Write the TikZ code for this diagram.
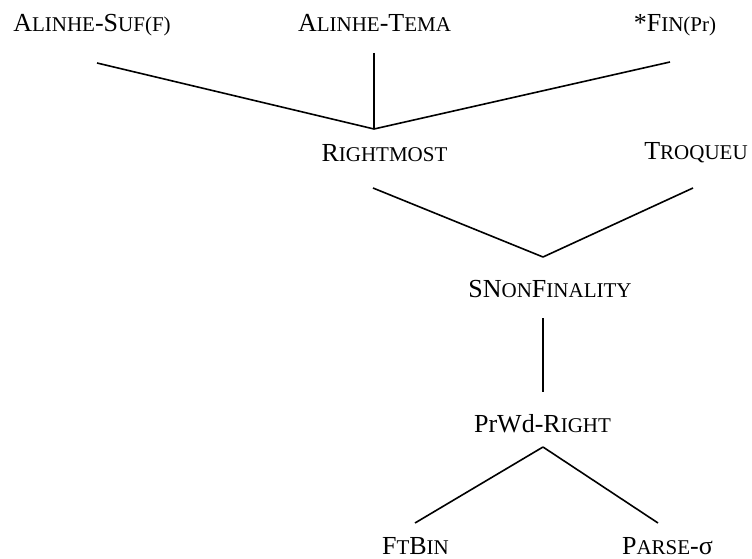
\documentclass[tikz,border=0pt]{standalone}
\usepackage{fontspec}
\setmainfont{Liberation Serif}
\usepackage{tikz}
\usetikzlibrary{positioning}

\newcommand{\smallcap}[1]{{\fontsize{21}{24}\selectfont #1}}

\begin{document}
\begin{tikzpicture}[
  x=1pt, y=-1pt,
  con/.style={anchor=base, inner sep=0pt, font=\fontsize{26}{30}\selectfont},
  branch/.style={line width=1.6pt}
]
\useasboundingbox (0,0) rectangle (752,559);

% constraints, ranked top to bottom
\node[con] (suf) at (92,32) {A\smallcap{LINHE}-S\smallcap{UF(F)}};
\node[con] (tema) at (374.5,32) {A\smallcap{LINHE}-T\smallcap{EMA}};
\node[con] (fin) at (675,32) {*F\smallcap{IN(Pr)}};

\node[con] (rm) at (384.5,161) {R\smallcap{IGHTMOST}};
\node[con] (troq) at (696,160) {T\smallcap{ROQUEU}};

\node[con] (snf) at (550,297) {SN\smallcap{ON}F\smallcap{INALITY}};

\node[con] (prwd) at (542.5,432) {PrWd-R\smallcap{IGHT}};

\node[con] (ftbin) at (415.5,554) {F\smallcap{T}B\smallcap{IN}};
\node[con] (parse) at (667.5,554) {P\smallcap{ARSE}-σ};

% line ends
\coordinate (suf-foot) at (97,63);
\coordinate (tema-foot) at (374,53);
\coordinate (fin-foot) at (670,62);
\coordinate (rm-head) at (374,129);
\coordinate (rm-foot) at (373,188);
\coordinate (troq-foot) at (693,188);
\coordinate (snf-head) at (543,257);
\coordinate (snf-foot) at (543,318);
\coordinate (prwd-head) at (543,392);
\coordinate (prwd-foot) at (543,447);
\coordinate (ftbin-head) at (415,523);
\coordinate (parse-head) at (658,523);

\draw[branch] (suf-foot) -- (rm-head);
\draw[branch] (tema-foot) -- (rm-head);
\draw[branch] (fin-foot) -- (rm-head);
\draw[branch] (rm-foot) -- (snf-head);
\draw[branch] (troq-foot) -- (snf-head);
\draw[branch] (snf-foot) -- (prwd-head);
\draw[branch] (prwd-foot) -- (ftbin-head);
\draw[branch] (prwd-foot) -- (parse-head);
\end{tikzpicture}
\end{document}
